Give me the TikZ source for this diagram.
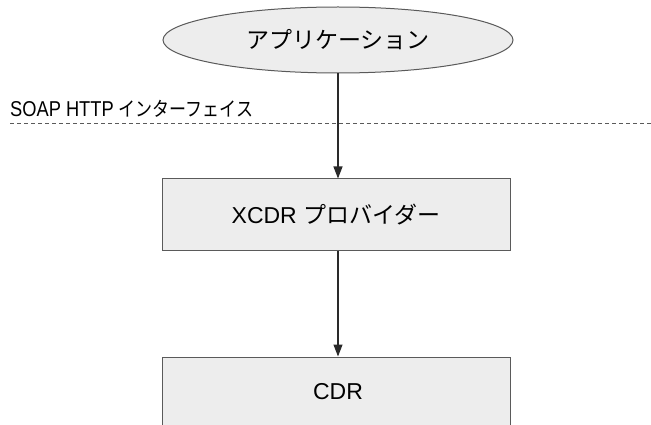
\documentclass[tikz,border=0pt]{standalone}
\usepackage{fontspec}
\setmainfont{Liberation Sans}
\newfontfamily\jp{Noto Sans CJK JP}
\newfontfamily\narrowsans[FakeStretch=0.85]{Liberation Sans}
\newfontfamily\narrowjp[FakeStretch=0.85]{Noto Sans CJK JP}
\usetikzlibrary{shapes.geometric,arrows.meta}
\definecolor{boxfill}{HTML}{EDEDED}
\definecolor{boxline}{HTML}{5A5A5A}
\definecolor{wireline}{HTML}{2A2A2A}
\tikzset{
  appshape/.style={ellipse, draw=boxline, fill=boxfill, line width=1pt,
    minimum width=350pt, minimum height=66pt, inner sep=0pt,
    font=\fontsize{23}{26}\selectfont\jp},
  layerbox/.style={rectangle, draw=boxline, fill=boxfill, line width=1pt,
    minimum width=348pt, inner sep=0pt,
    font=\fontsize{23}{26}\selectfont},
  flow/.style={draw=wireline, line width=1.1pt,
    -{Triangle[length=12pt,width=9pt]}},
  boundary/.style={draw=boxline, line width=0.9pt, dash pattern=on 4pt off 3pt},
}
\begin{document}
\begin{tikzpicture}[x=1pt,y=-1pt]
  \useasboundingbox (0,0) rectangle (651,425);
  \clip (0,0) rectangle (651,425);

  % interface boundary
  \draw[boundary] (10,123) -- (651,123);
  \node[anchor=base west, inner sep=0pt, font=\fontsize{21.5}{24}\selectfont\narrowsans]
    (iflabel) at (10,117) {SOAP HTTP {\narrowjp\fontsize{20}{24}\selectfont インターフェイス}};

  % components
  \node[appshape] (app) at (338,40) {アプリケーション};
  \node[layerbox, minimum height=71pt] (xcdr) at (336,214.5)
    {XCDR {\jp プロバイダー}};
  \node[layerbox, minimum height=90pt] (cdr) at (336,402) {};
  \node[font=\fontsize{23}{26}\selectfont] (cdrlabel) at (338,392) {CDR};

  % connectors
  \draw[flow] (app.south -| 338,0) -- (xcdr.north -| 338,0);
  \draw[flow] (xcdr.south -| 338,0) -- (cdr.north -| 338,0);
\end{tikzpicture}
\end{document}
